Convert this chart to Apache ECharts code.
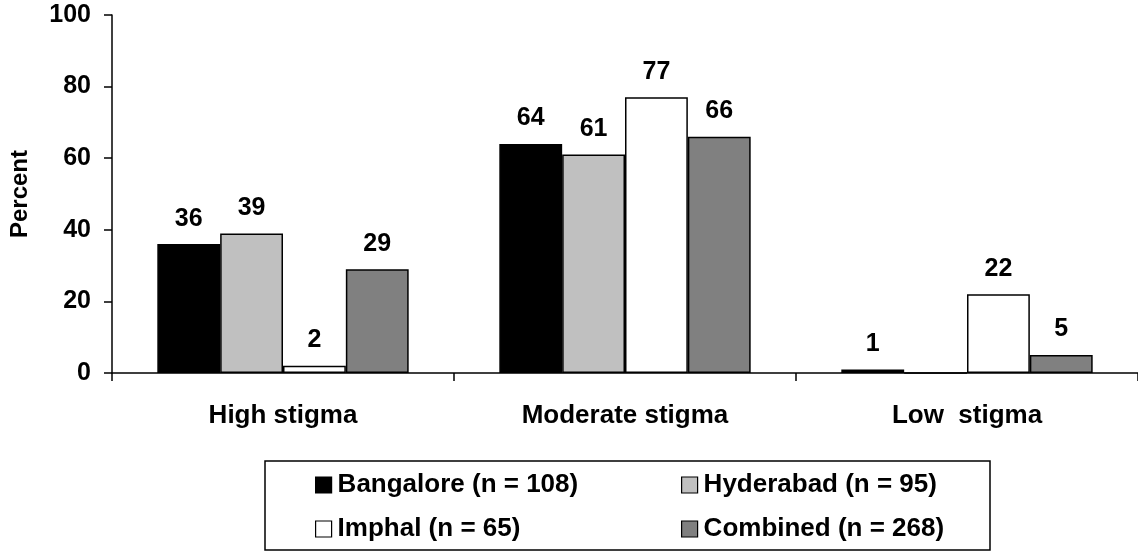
<!DOCTYPE html>
<html><head><meta charset="utf-8">
<script src="https://cdn.jsdelivr.net/npm/echarts@6/dist/echarts.min.js"></script>
<style>html,body{margin:0;padding:0;background:#fff}#c{width:1138px;height:552px}</style>
</head><body><div id="c"></div>
<script>
const categories = ['High stigma', 'Moderate stigma', 'Low  stigma'];
const seriesNames = ['Bangalore (n = 108)', 'Hyderabad (n = 95)', 'Imphal (n = 65)', 'Combined (n = 268)'];
const bangalore = [36, 64, 1];
const hyderabad = [39, 61, 0];
const imphal = [2, 77, 22];
const combined = [29, 66, 5];
const colors = ['#000000', '#c0c0c0', '#ffffff', '#808080'];
const yTicks = [0, 20, 40, 60, 80, 100];

const font = 'Liberation Sans, Arial, sans-serif';
const fs = 25;
const allData = [bangalore, hyderabad, imphal, combined];
const series = allData.map((d, i) => ({
  name: seriesNames[i], type: 'bar', data: d,
  barGap: '0%', barCategoryGap: '26.5%',
  itemStyle: { color: colors[i], borderColor: '#000', borderWidth: 1.5 },
  label: { show: true, position: 'top', distance: 13, color: '#000', fontFamily: font, fontWeight: 'bold', fontSize: fs,
    formatter: p => p.value === 0 ? '' : String(p.value) }
}));
const legendBase = {
  orient: 'vertical', itemWidth: 16, itemHeight: 16, itemGap: 18, icon: 'rect',
  textStyle: { fontFamily: font, fontWeight: 'bold', fontSize: 26, color: '#000', lineHeight: 26, padding: [0, 0, 0, 1] },
  itemStyle: { borderColor: '#000', borderWidth: 1.2 }, selectedMode: false, top: 472, padding: 0
};
const chart = echarts.init(document.getElementById('c'), null, { renderer: 'canvas' });
chart.setOption({
  animation: false,
  grid: { left: 112, right: 0, top: 15, bottom: 179, containLabel: false },
  xAxis: {
    type: 'category', data: categories,
    axisLine: { lineStyle: { color: '#000', width: 1.5 } },
    axisTick: { show: true, length: 8, lineStyle: { color: '#000', width: 1.5 } },
    axisLabel: { margin: 30, color: '#000', fontFamily: font, fontWeight: 'bold', fontSize: 26 }
  },
  yAxis: {
    type: 'value', min: 0, max: 100, interval: 20,
    name: 'Percent', nameLocation: 'middle', nameGap: 80, nameRotate: 90,
    nameTextStyle: { color: '#000', fontFamily: font, fontWeight: 'bold', fontSize: 24 },
    axisLine: { show: true, lineStyle: { color: '#000', width: 1.5 } },
    axisTick: { show: true, length: 8, lineStyle: { color: '#000', width: 1.5 } },
    splitLine: { show: false },
    axisLabel: { margin: 21, color: '#000', fontFamily: font, fontWeight: 'bold', fontSize: fs,
      formatter: v => yTicks.includes(v) ? String(v) : '' }
  },
  legend: [
    Object.assign({}, legendBase, { left: 315, data: [seriesNames[0], seriesNames[2]] }),
    Object.assign({}, legendBase, { left: 681, data: [seriesNames[1], seriesNames[3]] })
  ],
  graphic: [{ type: 'rect', shape: { x: 265, y: 461, width: 725, height: 89 },
    style: { fill: 'none', stroke: '#000', lineWidth: 1.5 }, silent: true }],
  series: series
});
</script></body></html>
